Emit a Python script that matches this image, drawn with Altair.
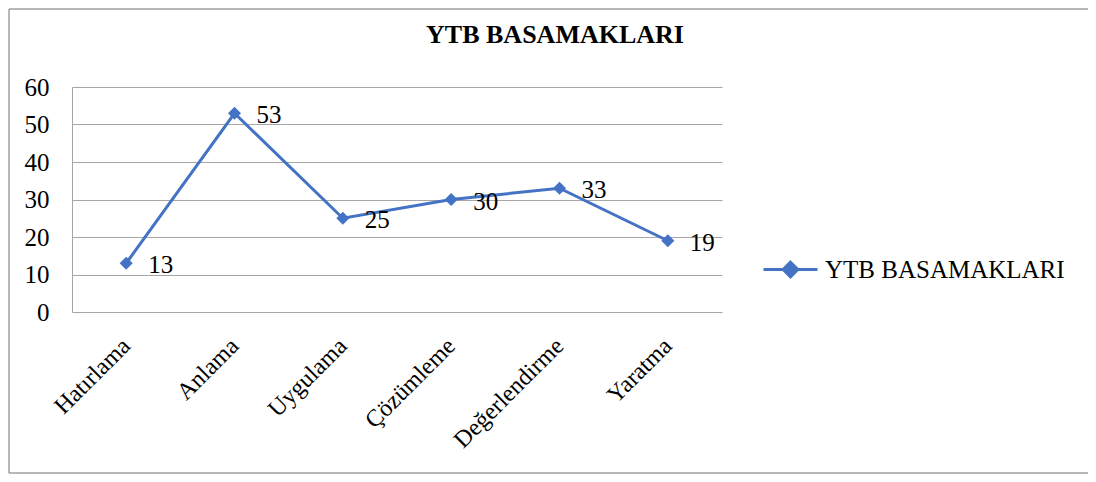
import altair as alt
import pandas as pd

categories = ["Hatırlama", "Anlama", "Uygulama", "Çözümleme", "Değerlendirme", "Yaratma"]
values = [13, 53, 25, 30, 33, 19]
series_name = "YTB BASAMAKLARI"
y_ticks = [0, 10, 20, 30, 40, 50, 60]

df = pd.DataFrame({"cat": categories, "val": values, "series": [series_name] * len(categories)})

BLUE = "#4472C4"
GRID = "#a6a6a6"
FONT = "Liberation Serif"

x_enc = alt.X("cat:N", sort=categories, title=None,
              scale=alt.Scale(paddingInner=0, paddingOuter=0),
              axis=alt.Axis(labelAngle=-45, labelAlign="right", labelBaseline="middle",
                            labelPadding=30, ticks=False, domain=False, grid=False,
                            labelOverlap=False, labelLimit=300,
                            labelFont=FONT, labelFontSize=24, labelColor="black"))
y_enc = alt.Y("val:Q", title=None, scale=alt.Scale(domain=[0, 60], nice=False),
              axis=alt.Axis(values=y_ticks, ticks=False, domain=True, domainColor=GRID,
                            grid=True, gridColor=GRID, gridWidth=1, labelPadding=23,
                            labelOverlap=False,
                            labelFont=FONT, labelFontSize=25, labelColor="black"))

base = alt.Chart(df)

line = base.mark_line(strokeWidth=3).encode(
    x=x_enc, y=y_enc,
    color=alt.Color("series:N", scale=alt.Scale(range=[BLUE]), title=None,
                    legend=alt.Legend(orient="none", legendX=690, legendY=154,
                                      symbolType="M-1,0H1M0,-0.27L0.27,0L0,0.27L-0.27,0Z",
                                      symbolSize=2916, symbolStrokeWidth=3,
                                      symbolFillColor=BLUE, symbolStrokeColor=BLUE,
                                      labelFont=FONT, labelFontSize=25, labelColor="black",
                                      labelOffset=6, labelLimit=400)),
)
points = base.mark_point(shape="diamond", filled=True, size=170, color=BLUE, opacity=1).encode(
    x=x_enc, y=y_enc)
labels = base.mark_text(align="left", baseline="middle", dx=22, dy=2, font=FONT,
                        fontSize=25, color="black").encode(
    x=x_enc, y=y_enc, text="val:Q")

frame_df = pd.DataFrame({"a": [0]})
BORDER = "#a0a0a0"
top_rule = alt.Chart(frame_df).mark_rule(stroke=BORDER, strokeWidth=1.5).encode(
    x=alt.value(-63), x2=alt.value(1016), y=alt.value(-78))
left_rule = alt.Chart(frame_df).mark_rule(stroke=BORDER, strokeWidth=1.5).encode(
    x=alt.value(-63), y=alt.value(-78), y2=alt.value(386))
bottom_rule = alt.Chart(frame_df).mark_rule(stroke=BORDER, strokeWidth=1.5).encode(
    x=alt.value(-63), x2=alt.value(1016), y=alt.value(386))

chart = alt.layer(top_rule, left_rule, bottom_rule, line, points, labels).properties(
    width=650, height=225,
    autosize=alt.AutoSizeParams(type="none"),
    padding={"left": 64, "top": 79, "right": 366, "bottom": 162},
    title=alt.TitleParams(series_name, font=FONT, fontSize=26, fontWeight="bold",
                          color="black", anchor="middle", frame="group", dx=158,
                          offset=0, dy=61, baseline="alphabetic"),
).configure_view(stroke=None)

chart.save("out.html", embed_options={"renderer": "svg", "actions": False})
